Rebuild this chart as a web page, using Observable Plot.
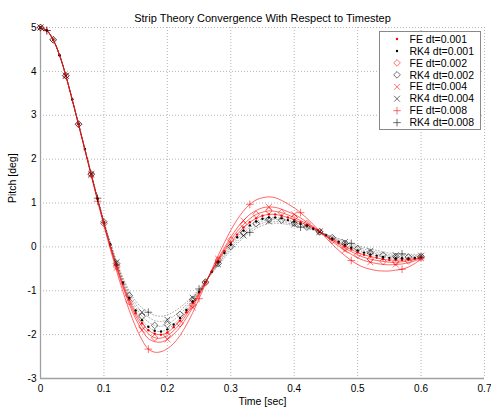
<!DOCTYPE html>
<html><head><meta charset="utf-8">
<script src="https://cdn.jsdelivr.net/npm/d3@7"></script>
<script src="https://cdn.jsdelivr.net/npm/@observablehq/plot@0.6"></script>
<style>html,body{margin:0;padding:0;background:#fff;} #chart{width:491px;height:411px;}</style>
</head><body><div id="chart"></div>
<script>
const times = [
 0.00,0.01,0.02,0.03,0.04,0.05,0.06,0.07,0.08,0.09,
 0.10,0.11,0.12,0.13,0.14,0.15,0.16,0.17,0.18,0.19,
 0.20,0.21,0.22,0.23,0.24,0.25,0.26,0.27,0.28,0.29,
 0.30,0.31,0.32,0.33,0.34,0.35,0.36,0.37,0.38,0.39,
 0.40,0.41,0.42,0.43,0.44,0.45,0.46,0.47,0.48,0.49,
 0.50,0.51,0.52,0.53,0.54,0.55,0.56,0.57,0.58,0.59,
 0.60];
const fe001 = [
 5.00,4.93,4.72,4.37,3.90,3.36,2.80,2.23,1.65,1.09,
 0.55,0.04,-0.42,-0.84,-1.20,-1.51,-1.74,-1.90,-1.98,-2.00,
 -1.95,-1.83,-1.68,-1.49,-1.28,-1.04,-0.81,-0.56,-0.33,-0.10,
 0.10,0.28,0.44,0.56,0.65,0.71,0.74,0.74,0.71,0.67,
 0.62,0.56,0.50,0.43,0.34,0.26,0.17,0.09,0.01,-0.06,
 -0.13,-0.18,-0.22,-0.25,-0.28,-0.30,-0.30,-0.30,-0.29,-0.27,
 -0.25];
const rk001 = [
 5.00,4.93,4.72,4.37,3.90,3.36,2.80,2.23,1.66,1.10,
 0.56,0.06,-0.40,-0.81,-1.16,-1.45,-1.67,-1.82,-1.91,-1.93,
 -1.88,-1.77,-1.62,-1.44,-1.24,-1.02,-0.80,-0.57,-0.35,-0.14,
 0.05,0.22,0.37,0.49,0.58,0.64,0.67,0.67,0.65,0.61,
 0.57,0.52,0.47,0.41,0.34,0.27,0.19,0.12,0.05,-0.02,
 -0.08,-0.13,-0.17,-0.20,-0.23,-0.25,-0.26,-0.26,-0.26,-0.25,
 -0.24];
const fe002 = [
 5.00,4.93,4.72,4.37,3.90,3.36,2.79,2.22,1.65,1.08,
 0.53,0.02,-0.45,-0.88,-1.25,-1.57,-1.81,-1.98,-2.07,-2.08,
 -2.02,-1.91,-1.75,-1.55,-1.32,-1.07,-0.82,-0.55,-0.30,-0.06,
 0.16,0.35,0.51,0.64,0.74,0.79,0.82,0.81,0.78,0.73,
 0.67,0.60,0.53,0.44,0.35,0.25,0.15,0.06,-0.03,-0.11,
 -0.18,-0.24,-0.28,-0.31,-0.33,-0.35,-0.35,-0.34,-0.32,-0.29,
 -0.25];
const rk002 = [
 5.00,4.93,4.72,4.37,3.90,3.36,2.80,2.23,1.66,1.10,
 0.57,0.07,-0.38,-0.77,-1.11,-1.38,-1.58,-1.71,-1.79,-1.81,
 -1.77,-1.67,-1.54,-1.38,-1.20,-1.00,-0.80,-0.58,-0.38,-0.18,
 0.01,0.17,0.32,0.44,0.53,0.59,0.62,0.63,0.61,0.58,
 0.54,0.50,0.45,0.40,0.34,0.28,0.21,0.14,0.08,0.01,
 -0.04,-0.09,-0.13,-0.16,-0.19,-0.21,-0.22,-0.23,-0.23,-0.22,
 -0.22];
const fe004 = [
 5.00,4.93,4.72,4.37,3.90,3.35,2.79,2.21,1.64,1.07,
 0.52,0.00,-0.48,-0.92,-1.31,-1.64,-1.90,-2.09,-2.16,-2.17,
 -2.11,-1.99,-1.83,-1.62,-1.38,-1.10,-0.83,-0.54,-0.27,-0.02,
 0.22,0.43,0.60,0.74,0.83,0.89,0.91,0.90,0.86,0.80,
 0.74,0.66,0.56,0.46,0.35,0.24,0.12,0.02,-0.08,-0.17,
 -0.25,-0.31,-0.35,-0.38,-0.40,-0.41,-0.40,-0.39,-0.36,-0.32,
 -0.26];
const rk004 = [
 5.00,4.93,4.72,4.37,3.90,3.36,2.80,2.23,1.66,1.11,
 0.57,0.09,-0.35,-0.74,-1.05,-1.30,-1.49,-1.60,-1.68,-1.70,
 -1.66,-1.58,-1.46,-1.32,-1.16,-0.98,-0.79,-0.60,-0.40,-0.21,
 -0.04,0.12,0.26,0.38,0.47,0.54,0.58,0.58,0.57,0.54,
 0.51,0.47,0.44,0.39,0.34,0.28,0.22,0.17,0.11,0.05,
 -0.01,-0.05,-0.09,-0.12,-0.15,-0.18,-0.19,-0.19,-0.20,-0.20,
 -0.20];
const fe008 = [
 5.00,4.93,4.72,4.37,3.90,3.35,2.78,2.20,1.62,1.04,
 0.48,-0.05,-0.55,-1.02,-1.45,-1.82,-2.12,-2.33,-2.40,-2.39,
 -2.32,-2.20,-2.02,-1.78,-1.50,-1.18,-0.85,-0.52,-0.20,0.10,
 0.38,0.62,0.82,0.97,1.07,1.12,1.14,1.12,1.06,0.98,
 0.89,0.78,0.65,0.51,0.36,0.21,0.06,-0.08,-0.20,-0.31,
 -0.40,-0.47,-0.51,-0.54,-0.55,-0.55,-0.53,-0.51,-0.46,-0.38,
 -0.28];
const rk008 = [
 5.00,4.93,4.72,4.37,3.90,3.36,2.80,2.23,1.66,1.11,
 0.58,0.10,-0.33,-0.70,-1.00,-1.23,-1.39,-1.49,-1.56,-1.58,
 -1.55,-1.48,-1.38,-1.26,-1.12,-0.96,-0.79,-0.61,-0.43,-0.25,
 -0.08,0.07,0.21,0.33,0.42,0.49,0.53,0.54,0.53,0.51,
 0.48,0.45,0.42,0.38,0.34,0.29,0.24,0.19,0.14,0.08,
 0.03,-0.01,-0.05,-0.08,-0.11,-0.14,-0.15,-0.16,-0.17,-0.17,
 -0.18];
const seriesNames = ["FE dt=0.001","RK4 dt=0.001","FE dt=0.002","RK4 dt=0.002","FE dt=0.004","RK4 dt=0.004","FE dt=0.008","RK4 dt=0.008"];
const xTicks = [0,0.1,0.2,0.3,0.4,0.5,0.6,0.7];
const yTicks = [-3,-2,-1,0,1,2,3,4,5];
const titleText = "Strip Theory Convergence With Respect to Timestep";
const xLabel = "Time [sec]";
const yLabel = "Pitch [deg]";

const FONT = "'Liberation Sans', Arial, Helvetica, sans-serif";
const RED = "#ff0000", BLK = "#000000";
const specs = [
  {values: fe001, solver:"FE", mk:"dot", every:1, phase:0},
  {values: rk001, solver:"RK", mk:"dot", every:1, phase:0},
  {values: fe002, solver:"FE", mk:"diamond2", every:2, phase:0},
  {values: rk002, solver:"RK", mk:"diamond2", every:2, phase:0},
  {values: fe004, solver:"FE", mk:"times", every:4, phase:0},
  {values: rk004, solver:"RK", mk:"times", every:4, phase:0},
  {values: fe008, solver:"FE", mk:"plus", every:8, phase:1},
  {values: rk008, solver:"RK", mk:"plus", every:8, phase:1}
];
const mkR = {dot:1.2, diamond2:3, times:2.8, plus:2.6};

const marks = [
  Plot.ruleX(xTicks, {stroke:"#b4b4b4", strokeWidth:1, strokeDasharray:"1,2"}),
  Plot.ruleY(yTicks, {stroke:"#b4b4b4", strokeWidth:1, strokeDasharray:"1,2"}),
  Plot.ruleX([0], {stroke:"#a0a0a0", strokeWidth:1.3}),
  Plot.ruleY([-3], {stroke:"#a0a0a0", strokeWidth:1.3})
];
specs.forEach((s, k) => {
  const rows = times.map((t, i) => ({t, v: s.values[i], i}));
  const col = s.solver === "FE" ? RED : BLK;
  if (s.solver === "FE") {
    marks.push(Plot.line(rows, {x:"t", y:"v", stroke:RED, strokeWidth:0.8, strokeOpacity:0.75, curve:"catmull-rom"}));
  } else {
    marks.push(Plot.line(rows, {x:"t", y:"v", stroke:"#555", strokeWidth:0.8, strokeOpacity:0.6, strokeDasharray:"1,2", curve:"catmull-rom"}));
  }
  const pts = rows.filter(d => d.i % s.every === s.phase);
  if (s.mk === "dot") {
    marks.push(Plot.dot(pts, {x:"t", y:"v", r:mkR.dot, fill:col, stroke:"none"}));
  } else {
    marks.push(Plot.dot(pts, {x:"t", y:"v", r:mkR[s.mk], symbol:s.mk, fill:"none", stroke:col, strokeWidth:0.75, strokeOpacity:0.75}));
  }
});
marks.push(
  Plot.text([titleText], {text:d=>d, frameAnchor:"top", dy:-13, fontSize:11, fill:"#000"}),
  Plot.text([xLabel], {text:d=>d, frameAnchor:"bottom", dy:26, fontSize:10.5, fill:"#000"}),
  Plot.text([yLabel], {text:d=>d, frameAnchor:"left", dx:-28, rotate:-90, fontSize:10.5, fill:"#000"})
);

const chart = Plot.plot({
  width:491, height:411,
  marginLeft:40, marginRight:7, marginTop:27, marginBottom:33,
  style:{fontFamily:FONT, fontSize:"10px", background:"#fff", color:"#000", overflow:"visible"},
  x:{domain:[0,0.7], ticks:xTicks, tickFormat:d=>String(d), tickSize:0, tickPadding:6, label:null},
  y:{domain:[-3,5], ticks:yTicks, tickFormat:d=>String(d), tickSize:0, tickPadding:4, label:null},
  marks
});

// legend drawn inside the same svg
const svg = d3.select(chart);
const lg = svg.append("g").attr("transform","translate(379.5,31.5)").attr("text-anchor","start");
lg.append("rect").attr("width",101).attr("height",98).attr("fill","#fff").attr("stroke","#888").attr("stroke-width",1);
specs.forEach((s, k) => {
  const y = 7.5 + k*11.95;
  const col = s.solver === "FE" ? RED : BLK;
  if (s.mk === "dot") {
    lg.append("circle").attr("cx",17.5).attr("cy",y).attr("r",mkR.dot).attr("fill",col);
  } else {
    const typ = {diamond2:d3.symbolDiamond2, times:d3.symbolTimes, plus:d3.symbolPlus}[s.mk];
    const r = mkR[s.mk];
    lg.append("path").attr("transform",`translate(17.5,${y})`)
      .attr("d", d3.symbol(typ, r*r*Math.PI)()).attr("fill","none").attr("stroke",col).attr("stroke-width",0.75).attr("stroke-opacity",0.75);
  }
  lg.append("text").attr("x",30).attr("y",y).attr("dy","0.35em").attr("text-anchor","start")
    .attr("font-family",FONT).attr("font-size","10.5px").attr("fill","#000").text(seriesNames[k]);
});
document.getElementById("chart").appendChild(chart);
</script>
</body></html>
